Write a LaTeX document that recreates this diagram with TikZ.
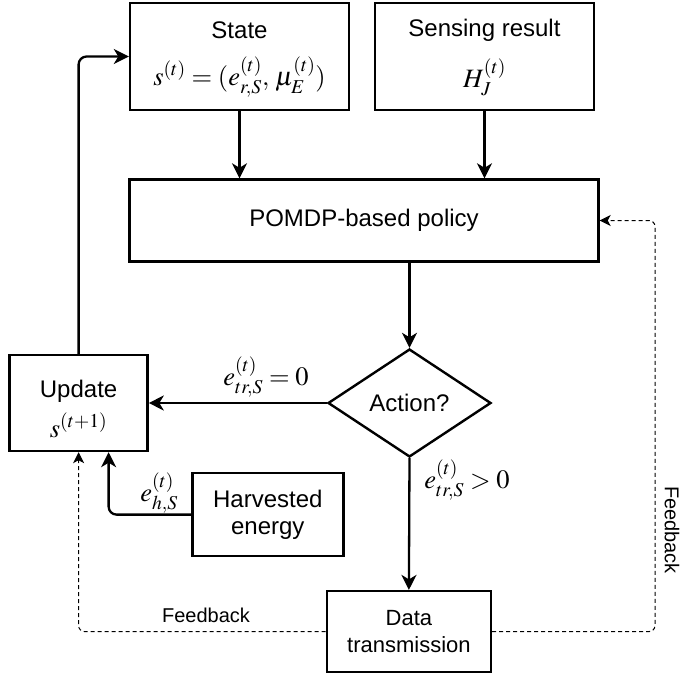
\documentclass[tikz,border=0pt]{standalone}
\usepackage{mathptmx}
\usepackage[no-math]{fontspec}
\setmainfont{Liberation Sans}
\usetikzlibrary{arrows.meta,shapes.geometric}

\begin{document}
\begin{tikzpicture}[x=1pt,y=-1pt,
  box/.style={draw, line width=2.4pt, inner sep=0pt},
  txt/.style={font=\fontsize{24}{27}\selectfont, inner sep=0pt},
  mth/.style={font=\fontsize{26.5}{30}\selectfont, inner sep=0pt},
  small/.style={font=\fontsize{20}{23}\selectfont, inner sep=0pt},
  flow/.style={line width=2.3pt, -{Stealth[length=15pt,width=15pt,inset=4.5pt]}},
  fb/.style={line width=1pt, dash pattern=on 4pt off 3pt, -{Stealth[length=11pt,width=11pt,inset=3pt]}}
]
\useasboundingbox (0,0) rectangle (681,677);

% boxes
\node[box, minimum width=219pt, minimum height=107pt] (state) at (239.5,56.5) {};
\node[box, minimum width=219pt, minimum height=107pt] (sense) at (484.5,56.5) {};
\node[box, minimum width=469pt, minimum height=82pt, txt] (pomdp) at (364,220.5) {POMDP-based policy};
\node[box, diamond, minimum width=163pt, minimum height=108pt, txt] (action) at (409.5,403) {Action?};
\node[box, minimum width=138pt, minimum height=96pt] (update) at (78.6,403) {};
\node[box, minimum width=151pt, minimum height=83pt, txt, align=center] (harv) at (267.8,514.6) {Harvested\\energy};
\node[box, minimum width=164pt, minimum height=81pt, align=center, font=\fontsize{22}{27}\selectfont] (dt) at (408.9,631.6) {Data\\transmission};

% texts inside the boxes
\node[txt] (statet) at (239.5,30) {State};
\node[mth] (statem) at (239.5,77) {$s^{(t)} = (e^{(t)}_{r,S},\, \mu^{(t)}_E)$};
\node[txt] (senset) at (484.5,30) {Sensing result};
\node[mth] (sensem) at (484.5,77) {$H^{(t)}_J$};
\node[txt] (updt) at (78.6,391) {Update};
\node[mth] (updm) at (78.6,425) {$s^{(t+1)}$};

% solid flow
\draw[flow] (state.south) -- (state.south |- pomdp.north);
\draw[flow] (sense.south) -- (sense.south |- pomdp.north);
\draw[flow] (pomdp.south -| action.north) -- (action.north);
\draw[flow] (action.west) -- (update.east);
\draw[flow] (action.south) -- (dt.north);
\draw[flow, rounded corners=8pt] (update.north) |- (state.west);
\draw[flow, rounded corners=8pt] (harv.west) -| ([xshift=30pt]update.south);

% feedback paths
\coordinate (fbr) at (655,631.6);
\draw[fb, rounded corners=6pt] (dt.west) -| (update.south);
\draw[fb, rounded corners=6pt] (dt.east) -- (fbr) |- (pomdp.east);

% labels
\node[mth] (l0) at (266,377) {$e^{(t)}_{tr,S} = 0$};
\node[mth] (l1) at (467,480) {$e^{(t)}_{tr,S} > 0$};
\node[mth] (lh) at (159,493) {$e^{(t)}_{h,S}$};
\node[small] (fb1) at (206,615) {Feedback};
\node[small, rotate=-90] (fb2) at (672,530) {Feedback};
\end{tikzpicture}
\end{document}
